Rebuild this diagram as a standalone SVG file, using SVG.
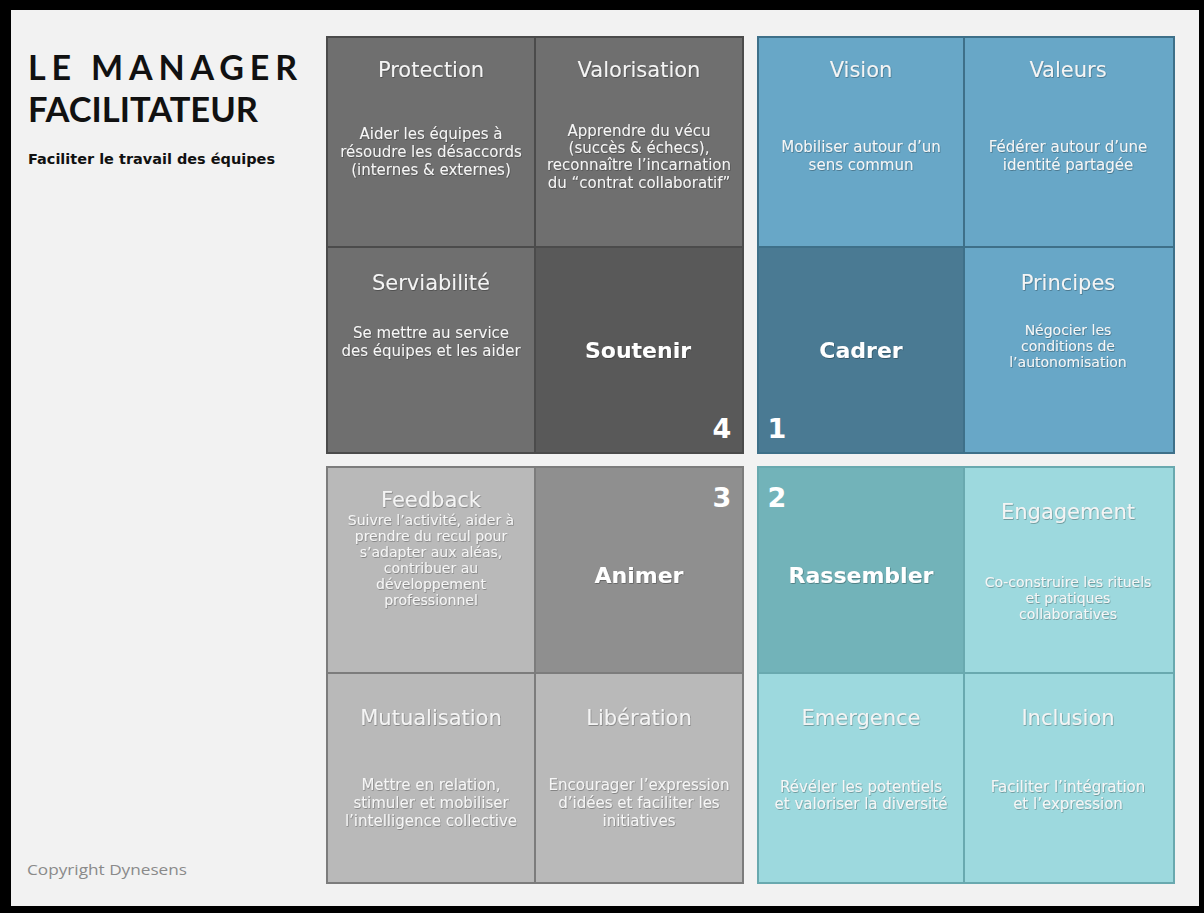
<svg xmlns="http://www.w3.org/2000/svg" width="1204" height="913" viewBox="0 0 1204 913">
<defs>
<filter id="sh" x="-10%" y="-30%" width="120%" height="160%"><feDropShadow dx="0.6" dy="0.8" stdDeviation="0.7" flood-color="#000" flood-opacity="0.35"/></filter>
</defs>
<style>
.t{font-family:"DejaVu Sans","Liberation Sans",sans-serif;font-size:21px;fill:#f4f4f4;text-anchor:middle;filter:url(#sh)}
.d{font-family:"DejaVu Sans","Liberation Sans",sans-serif;font-size:15px;fill:#f6f6f6;text-anchor:middle;filter:url(#sh)}
.ds{font-family:"DejaVu Sans","Liberation Sans",sans-serif;font-size:14px;fill:#f6f6f6;text-anchor:middle;filter:url(#sh)}
.b{font-family:"DejaVu Sans","Liberation Sans",sans-serif;font-size:22px;font-weight:bold;fill:#ffffff;text-anchor:middle;filter:url(#sh)}
.n{font-family:"DejaVu Sans","Liberation Sans",sans-serif;font-size:27px;font-weight:bold;fill:#ffffff;text-anchor:middle}
</style>
<rect x="0" y="0" width="1204" height="913" fill="#000"/>
<rect x="11" y="10" width="1188" height="896" fill="#f2f2f2"/>
<g id="header">
<text x="28" y="80" font-family="Lato,'Open Sans',sans-serif" font-weight="bold" font-size="34" fill="#111" textLength="269" lengthAdjust="spacing">LE MANAGER</text>
<text x="28" y="122" font-family="Lato,'Open Sans',sans-serif" font-weight="bold" font-size="34" fill="#111" textLength="230" lengthAdjust="spacingAndGlyphs">FACILITATEUR</text>
<text x="28" y="164" font-family="'DejaVu Sans',sans-serif" font-weight="bold" font-size="13.5" fill="#111" textLength="247" lengthAdjust="spacingAndGlyphs">Faciliter le travail des équipes</text>
</g>
<g id="copyright"><text x="27" y="875" font-family="'Open Sans',sans-serif" font-size="15" fill="#8a8a8a" textLength="160" lengthAdjust="spacingAndGlyphs">Copyright Dynesens</text></g>

<g id="q4">
<rect x="326" y="36" width="418" height="418" fill="#4b4b4b"/>
<g id="protection"><rect x="328" y="38" width="206" height="208" fill="#6f6f6f"/>
<text class="t" x="431" y="77">Protection</text>
<text class="d" x="431" y="139">Aider les équipes à</text>
<text class="d" x="431" y="157">résoudre les désaccords</text>
<text class="d" x="431" y="175">(internes &amp; externes)</text></g>
<g id="valorisation"><rect x="536" y="38" width="206" height="208" fill="#6f6f6f"/>
<text class="t" x="639" y="77">Valorisation</text>
<text class="d" x="639" y="136">Apprendre du vécu</text>
<text class="d" x="639" y="153">(succès  &amp; échecs),</text>
<text class="d" x="639" y="170">reconnaître l’incarnation</text>
<text class="d" x="639" y="188">du “contrat collaboratif”</text></g>
<g id="serviabilite"><rect x="328" y="248" width="206" height="204" fill="#6f6f6f"/>
<text class="t" x="431" y="290">Serviabilité</text>
<text class="d" x="431" y="338">Se mettre au service</text>
<text class="d" x="431" y="356">des équipes et les aider</text></g>
<g id="soutenir"><rect x="536" y="248" width="206" height="204" fill="#595959"/>
<text class="b" x="638" y="358">Soutenir</text>
<text class="n" x="722" y="438">4</text></g>
</g>

<g id="q1">
<rect x="757" y="36" width="418" height="418" fill="#3e7089"/>
<g id="vision"><rect x="759" y="38" width="204" height="208" fill="#68a7c7"/>
<text class="t" x="861" y="77">Vision</text>
<text class="d" x="861" y="152">Mobiliser autour d’un</text>
<text class="d" x="861" y="170">sens commun</text></g>
<g id="valeurs"><rect x="965" y="38" width="208" height="208" fill="#68a7c7"/>
<text class="t" x="1068" y="77">Valeurs</text>
<text class="d" x="1068" y="152">Fédérer autour d’une</text>
<text class="d" x="1068" y="170">identité partagée</text></g>
<g id="cadrer"><rect x="759" y="248" width="204" height="204" fill="#4a7a93"/>
<text class="b" x="861" y="358">Cadrer</text>
<text class="n" x="777" y="438">1</text></g>
<g id="principes"><rect x="965" y="248" width="208" height="204" fill="#68a7c7"/>
<text class="t" x="1068" y="290">Principes</text>
<text class="ds" x="1068" y="335">Négocier les</text>
<text class="ds" x="1068" y="351">conditions de</text>
<text class="ds" x="1068" y="367">l’autonomisation</text></g>
</g>

<g id="q3">
<rect x="326" y="466" width="418" height="418" fill="#7c7c7c"/>
<g id="feedback"><rect x="328" y="468" width="206" height="204" fill="#b9b9b9"/>
<text class="t" x="431" y="507">Feedback</text>
<text class="ds" x="431" y="525">Suivre l’activité, aider à</text>
<text class="ds" x="431" y="541">prendre du recul pour</text>
<text class="ds" x="431" y="557">s’adapter aux aléas,</text>
<text class="ds" x="431" y="573">contribuer au</text>
<text class="ds" x="431" y="589">développement</text>
<text class="ds" x="431" y="605">professionnel</text></g>
<g id="animer"><rect x="536" y="468" width="206" height="204" fill="#8f8f8f"/>
<text class="b" x="639" y="583">Animer</text>
<text class="n" x="722" y="507">3</text></g>
<g id="mutualisation"><rect x="328" y="674" width="206" height="208" fill="#b9b9b9"/>
<text class="t" x="431" y="725">Mutualisation</text>
<text class="d" x="431" y="790">Mettre en relation,</text>
<text class="d" x="431" y="808">stimuler et mobiliser</text>
<text class="d" x="431" y="826">l’intelligence collective</text></g>
<g id="liberation"><rect x="536" y="674" width="206" height="208" fill="#b9b9b9"/>
<text class="t" x="639" y="725">Libération</text>
<text class="d" x="639" y="790">Encourager l’expression</text>
<text class="d" x="639" y="808">d’idées et faciliter les</text>
<text class="d" x="639" y="826">initiatives</text></g>
</g>

<g id="q2">
<rect x="757" y="466" width="418" height="418" fill="#69a9af"/>
<g id="rassembler"><rect x="759" y="468" width="204" height="204" fill="#72b3b9"/>
<text class="b" x="861" y="583">Rassembler</text>
<text class="n" x="777" y="507">2</text></g>
<g id="engagement"><rect x="965" y="468" width="208" height="204" fill="#9dd9de"/>
<text class="t" x="1068" y="519">Engagement</text>
<text class="ds" x="1068" y="587">Co-construire les rituels</text>
<text class="ds" x="1068" y="603">et pratiques</text>
<text class="ds" x="1068" y="619">collaboratives</text></g>
<g id="emergence"><rect x="759" y="674" width="204" height="208" fill="#9dd9de"/>
<text class="t" x="861" y="725">Emergence</text>
<text class="d" x="861" y="792">Révéler les potentiels</text>
<text class="d" x="861" y="809">et valoriser la diversité</text></g>
<g id="inclusion"><rect x="965" y="674" width="208" height="208" fill="#9dd9de"/>
<text class="t" x="1068" y="725">Inclusion</text>
<text class="d" x="1068" y="792">Faciliter l’intégration</text>
<text class="d" x="1068" y="809">et l’expression</text></g>
</g>
<g id="connectors"/>
</svg>
